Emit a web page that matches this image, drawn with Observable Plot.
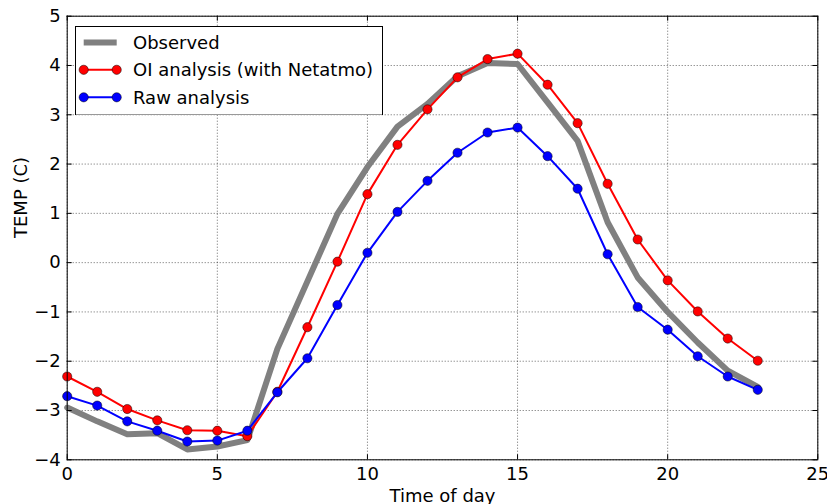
<!DOCTYPE html>
<html><head><meta charset="utf-8">
<script src="https://cdn.jsdelivr.net/npm/d3@7"></script>
<script src="https://cdn.jsdelivr.net/npm/@observablehq/plot@0.6"></script>
<style>
body{margin:0;background:#fff}
#wrap{position:relative;width:827px;height:504px}
#legend{position:absolute;left:75.3px;top:25.7px}
</style>
</head><body><div id="wrap"></div>
<script>
const hours = [0,1,2,3,4,5,6,7,8,9,10,11,12,13,14,15,16,17,18,19,20,21,22,23];
const observed = [-2.94,-3.22,-3.48,-3.46,-3.79,-3.73,-3.60,-1.75,-0.38,0.99,1.94,2.76,3.22,3.78,4.05,4.03,3.25,2.47,0.82,-0.30,-1.00,-1.62,-2.19,-2.52];
const oiAnalysis = [-2.31,-2.62,-2.97,-3.20,-3.40,-3.41,-3.52,-2.62,-1.31,0.02,1.39,2.39,3.11,3.76,4.13,4.24,3.61,2.83,1.60,0.47,-0.36,-0.99,-1.54,-1.99];
const rawAnalysis = [-2.71,-2.90,-3.22,-3.41,-3.63,-3.61,-3.41,-2.63,-1.94,-0.86,0.20,1.03,1.66,2.23,2.64,2.74,2.16,1.50,0.17,-0.90,-1.36,-1.90,-2.31,-2.58];
const seriesNames = ["Observed","OI analysis (with Netatmo)","Raw analysis"];
const xTicks = [0,5,10,15,20,25];
const yTicks = [-4,-3,-2,-1,0,1,2,3,4,5];
const xLabel = "Time of day";
const yLabel = "TEMP (C)";

const W = 827, H = 504, mL = 66.7, mR = 9.7, mT = 15.7, mB = 44.7;
const innerH = H - mT - mB, innerW = W - mL - mR;
const tickLen = 5;

const toRows = vals => hours.map((h, i) => ({hour: h, value: vals[i]}));
const obsRows = toRows(observed), oiRows = toRows(oiAnalysis), rawRows = toRows(rawAnalysis);

const chart = Plot.plot({
  width: W, height: H,
  marginLeft: mL, marginRight: mR, marginTop: mT, marginBottom: mB,
  style: {fontFamily: "DejaVu Sans", fontSize: "18px", background: "#fff", overflow: "visible"},
  x: {domain: [0, 25]},
  y: {domain: [-4, 5]},
  marks: [
    Plot.gridX(xTicks, {stroke: "#000", strokeOpacity: 0.6, strokeDasharray: "1,2"}),
    Plot.gridY(yTicks, {stroke: "#000", strokeOpacity: 0.6, strokeDasharray: "1,2"}),
    Plot.line(obsRows, {x: "hour", y: "value", stroke: "#808080", strokeWidth: 6, strokeLinejoin: "round"}),
    Plot.line(oiRows, {x: "hour", y: "value", stroke: "#ff0000", strokeWidth: 2}),
    Plot.dot(oiRows, {x: "hour", y: "value", r: 4.6, fill: "#ff0000", stroke: "#000", strokeWidth: 0.5}),
    Plot.line(rawRows, {x: "hour", y: "value", stroke: "#0000ff", strokeWidth: 2}),
    Plot.dot(rawRows, {x: "hour", y: "value", r: 4.6, fill: "#0000ff", stroke: "#000", strokeWidth: 0.5}),
    Plot.tickX(xTicks, {x: d => d, stroke: "#000", insetTop: innerH - tickLen}),
    Plot.tickX(xTicks, {x: d => d, stroke: "#000", insetBottom: innerH - tickLen}),
    Plot.tickY(yTicks, {y: d => d, stroke: "#000", insetRight: innerW - tickLen}),
    Plot.tickY(yTicks, {y: d => d, stroke: "#000", insetLeft: innerW - tickLen}),
    Plot.frame({stroke: "#000", strokeWidth: 1}),
    Plot.axisX(xTicks, {tickSize: 0, tickPadding: 7, label: null, fill: "#000"}),
    Plot.axisY(yTicks, {tickSize: 0, tickPadding: 6.5, label: null, fill: "#000"}),
    Plot.text([xLabel], {text: d => d, frameAnchor: "bottom", lineAnchor: "middle", dy: 36.5, fill: "#000"}),
    Plot.text([yLabel], {text: d => d, frameAnchor: "left", lineAnchor: "middle", rotate: -90, dx: -45.5, fill: "#000"})
  ]
});
const wrap = document.getElementById("wrap");
wrap.appendChild(chart);

// Legend (drawn as an overlay box with white fill)
const legendItems = [
  {name: seriesNames[0], color: "#808080", width: 6, marker: false},
  {name: seriesNames[1], color: "#ff0000", width: 2, marker: true},
  {name: seriesNames[2], color: "#0000ff", width: 2, marker: true}
];
const LW = 307, LH = 88.6;
const lg = d3.create("svg").attr("id", "legend").attr("width", LW + 1).attr("height", LH + 1)
  .style("font-family", "DejaVu Sans").style("font-size", "18px");
lg.append("rect").attr("x", 0.5).attr("y", 0.5).attr("width", LW).attr("height", LH)
  .attr("fill", "#fff").attr("stroke", "#000").attr("stroke-width", 1);
const rowY = [16.5, 43.8, 71.3];
legendItems.forEach((it, i) => {
  const g = lg.append("g").attr("transform", `translate(0,${rowY[i]})`);
  g.append("line").attr("x1", 8.7).attr("x2", 41.7).attr("y1", 0).attr("y2", 0)
    .attr("stroke", it.color).attr("stroke-width", it.width);
  if (it.marker) {
    [8.7, 41.7].forEach(cx => g.append("circle").attr("cx", cx).attr("cy", 0).attr("r", 4.6)
      .attr("fill", it.color).attr("stroke", "#000").attr("stroke-width", 0.5));
  }
  g.append("text").attr("x", 58).attr("y", 6.6).attr("fill", "#000").text(it.name);
});
wrap.appendChild(lg.node());
</script>
</body></html>
